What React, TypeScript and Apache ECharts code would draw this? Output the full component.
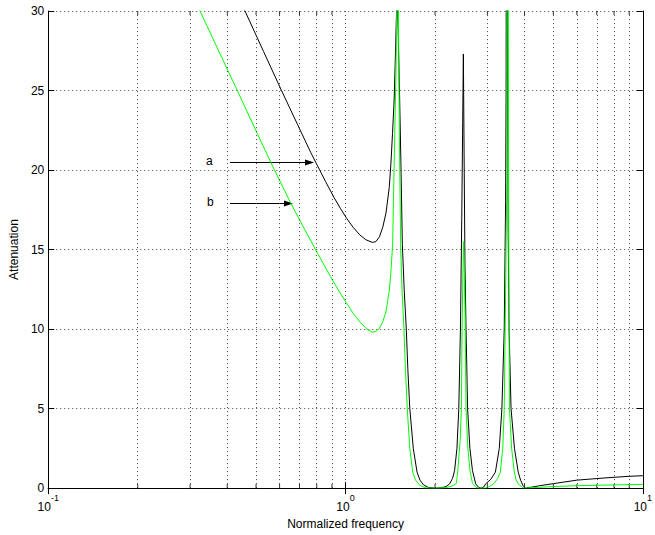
import React, { useEffect, useRef } from 'react';
import * as echarts from 'echarts';

const xRange = [0.1, 10];
const yRange = [0, 30];
const yStep = 5;
const minorFreqs = [0.2, 0.3, 0.4, 0.5, 0.6, 0.7, 0.8, 0.9, 2, 3, 4, 5, 6, 7, 8, 9];

const curveA: [number, number][] = [
  [0.44, 30.8], [0.459, 30], [0.53, 27.45], [0.609, 25], [0.69, 22.85], [0.764, 21.1],
  [0.821, 19.95], [0.857, 19.27], [0.913, 18.3], [0.96, 17.6], [1.01, 16.95], [1.06, 16.4],
  [1.117, 15.92], [1.17, 15.62], [1.23, 15.45], [1.265, 15.5], [1.3, 15.8], [1.334, 16.4],
  [1.368, 17.3], [1.403, 18.9], [1.421, 20.4], [1.439, 22.3], [1.457, 24.4], [1.468, 26.5],
  [1.484, 29.85], [1.491, 60], [1.498, 30], [1.521, 24.4], [1.536, 20.3], [1.553, 15.3],
  [1.575, 12.5], [1.601, 10], [1.62, 7.5], [1.645, 5], [1.69, 2.5], [1.74, 1], [1.78, 0.5],
  [1.83, 0.2], [1.9, 0.04], [2.0, 0], [2.1, 0.02], [2.18, 0.1], [2.24, 0.27], [2.29, 0.6],
  [2.327, 1.1], [2.37, 2.5], [2.404, 5], [2.435, 10], [2.46, 17], [2.478, 23], [2.491, 27.3],
  [2.505, 21], [2.522, 14], [2.543, 10], [2.574, 5], [2.62, 2.5], [2.673, 1.1], [2.74, 0.27],
  [2.8, 0.05], [2.86, 0], [2.92, 0.08], [2.96, 0.27], [3.08, 0.55], [3.192, 1], [3.29, 2.5],
  [3.357, 5], [3.418, 10], [3.455, 18], [3.468, 25], [3.486, 60], [3.51, 25], [3.525, 16],
  [3.549, 10], [3.604, 5], [3.7, 2.5], [3.81, 1], [3.88, 0.5], [3.957, 0.15], [4.02, 0],
  [4.2, 0.05], [4.5, 0.15], [5, 0.28], [6, 0.5], [7, 0.6], [8, 0.68], [9, 0.74], [10, 0.78],
];

const curveB: [number, number][] = [
  [0.3, 31.3], [0.324, 30], [0.401, 26.3], [0.43, 25.1], [0.53, 21.45], [0.57, 20.2],
  [0.649, 18.05], [0.727, 16.3], [0.798, 14.9], [0.89, 13.3], [0.95, 12.4], [1.01, 11.6],
  [1.06, 11.0], [1.117, 10.45], [1.18, 10.0], [1.23, 9.8], [1.265, 9.85], [1.3, 10.05],
  [1.334, 10.45], [1.368, 11.1], [1.403, 12.4], [1.42, 13.5], [1.44, 15.3], [1.457, 20.3],
  [1.476, 25.5], [1.487, 30], [1.496, 60], [1.506, 30], [1.517, 22.4], [1.533, 15.1],
  [1.55, 12.3], [1.572, 10], [1.59, 7.5], [1.613, 5], [1.645, 2.5], [1.683, 1], [1.72, 0.5],
  [1.77, 0.2], [1.85, 0.02], [1.95, 0], [2.1, 0], [2.2, 0.05], [2.3, 0.15], [2.36, 0.3],
  [2.386, 1.1], [2.43, 3], [2.453, 5], [2.466, 10], [2.485, 14], [2.497, 15.5], [2.512, 13],
  [2.529, 10], [2.543, 5], [2.58, 2.5], [2.621, 1.1], [2.673, 0.3], [2.75, 0.03], [2.82, 0],
  [2.95, 0], [3.05, 0.1], [3.15, 0.27], [3.25, 0.6], [3.316, 1], [3.38, 2.5], [3.418, 5],
  [3.444, 10], [3.49, 20], [3.513, 60], [3.535, 20], [3.549, 10], [3.56, 5], [3.62, 2.5],
  [3.696, 1], [3.75, 0.5], [3.81, 0.27], [3.95, 0.02], [4.1, 0.01], [5, 0.1], [6, 0.15],
  [8, 0.2], [10, 0.23],
];

const seriesNames = ['a', 'b'];
const xTitle = 'Normalized frequency';
const yTitle = 'Attenuation';

export default function App() {
  const ref = useRef<HTMLDivElement>(null);
  useEffect(() => {
    const chart = echarts.init(ref.current!, null, { renderer: 'svg' });
    const font = '"Liberation Sans", Arial, Helvetica, sans-serif';
    const gridStyle = { color: '#444', width: 1, type: [1, 3] as any };
    const tickAxisCommon = {
      axisLine: { show: true, lineStyle: { color: '#000', width: 1 } },
      axisTick: { show: true, inside: true, length: 6, lineStyle: { color: '#000' } },
    };
    const minorTickData = [
      ...minorFreqs.map((f) => ({ value: [f, yRange[0]], symbolOffset: [0, -2] })),
      ...minorFreqs.map((f) => ({ value: [f, yRange[1]], symbolOffset: [0, 2] })),
    ];
    chart.setOption({
      animation: false,
      backgroundColor: '#fff',
      textStyle: { fontFamily: font },
      grid: { left: 45, top: 11, right: 3, bottom: 44, containLabel: false },
      xAxis: [
        {
          type: 'log',
          logBase: 10,
          min: xRange[0],
          max: xRange[1],
          position: 'bottom',
          name: xTitle,
          nameLocation: 'middle',
          nameGap: 24,
          nameTextStyle: { color: '#000', fontSize: 12, fontFamily: font },
          ...tickAxisCommon,
          axisLabel: {
            margin: 5,
            formatter: (v: number) => `{b|10}{s|${Math.round(Math.log10(v))}}`,
            rich: {
              b: { fontSize: 12, lineHeight: 20, verticalAlign: 'bottom', color: '#000', fontFamily: font },
              s: { fontSize: 9, lineHeight: 9, verticalAlign: 'top', color: '#000', fontFamily: font },
            },
          },
          splitLine: { show: true, lineStyle: gridStyle },
        },
        {
          type: 'log',
          logBase: 10,
          min: xRange[0],
          max: xRange[1],
          position: 'top',
          ...tickAxisCommon,
          axisLabel: { show: false },
          splitLine: { show: false },
        },
      ],
      yAxis: [
        {
          type: 'value',
          min: yRange[0],
          max: yRange[1],
          interval: yStep,
          position: 'left',
          name: yTitle,
          nameLocation: 'middle',
          nameGap: 23,
          nameTextStyle: { color: '#000', fontSize: 12, fontFamily: font },
          ...tickAxisCommon,
          axisLabel: { margin: 4, color: '#000', fontSize: 12, fontFamily: font },
          splitLine: { show: true, lineStyle: gridStyle },
        },
        {
          type: 'value',
          min: yRange[0],
          max: yRange[1],
          interval: yStep,
          position: 'right',
          ...tickAxisCommon,
          axisLabel: { show: false },
          splitLine: { show: false },
        },
      ],
      series: [
        {
          type: 'scatter',
          name: 'minor',
          z: 1,
          silent: true,
          clip: false,
          symbol: 'rect',
          symbolSize: [1, 4],
          itemStyle: { color: '#000' },
          data: minorTickData,
          markLine: {
            silent: true,
            symbol: 'none',
            label: { show: false },
            lineStyle: gridStyle,
            data: minorFreqs.map((f) => ({ xAxis: f })),
          },
        },
        {
          type: 'line',
          name: seriesNames[0],
          data: curveA,
          showSymbol: false,
          symbol: 'none',
          clip: true,
          lineStyle: { color: '#000', width: 1 },
          itemStyle: { color: '#000' },
          z: 3,
        },
        {
          type: 'line',
          name: seriesNames[1],
          data: curveB,
          showSymbol: false,
          symbol: 'none',
          clip: true,
          lineStyle: { color: '#00ff00', width: 1 },
          itemStyle: { color: '#00ff00' },
          z: 4,
        },
      ],
      graphic: [
        { type: 'text', left: 206, top: 155, style: { text: seriesNames[0], fontSize: 12, fontFamily: font, fill: '#000' } },
        { type: 'line', shape: { x1: 230, y1: 162.5, x2: 306, y2: 162.5 }, style: { stroke: '#000', lineWidth: 1 } },
        { type: 'polygon', shape: { points: [[314, 162.5], [305, 159.5], [305, 165.5]] }, style: { fill: '#000' } },
        { type: 'text', left: 207, top: 196, style: { text: seriesNames[1], fontSize: 12, fontFamily: font, fill: '#000' } },
        { type: 'line', shape: { x1: 230, y1: 203.5, x2: 285, y2: 203.5 }, style: { stroke: '#000', lineWidth: 1 } },
        { type: 'polygon', shape: { points: [[293, 203.5], [284, 200.5], [284, 206.5]] }, style: { fill: '#000' } },
      ],
    });
    return () => chart.dispose();
  }, []);
  return (
    <div
      ref={ref}
      style={{ position: 'fixed', left: 0, top: 0, width: 655, height: 535, background: '#fff' }}
    />
  );
}
